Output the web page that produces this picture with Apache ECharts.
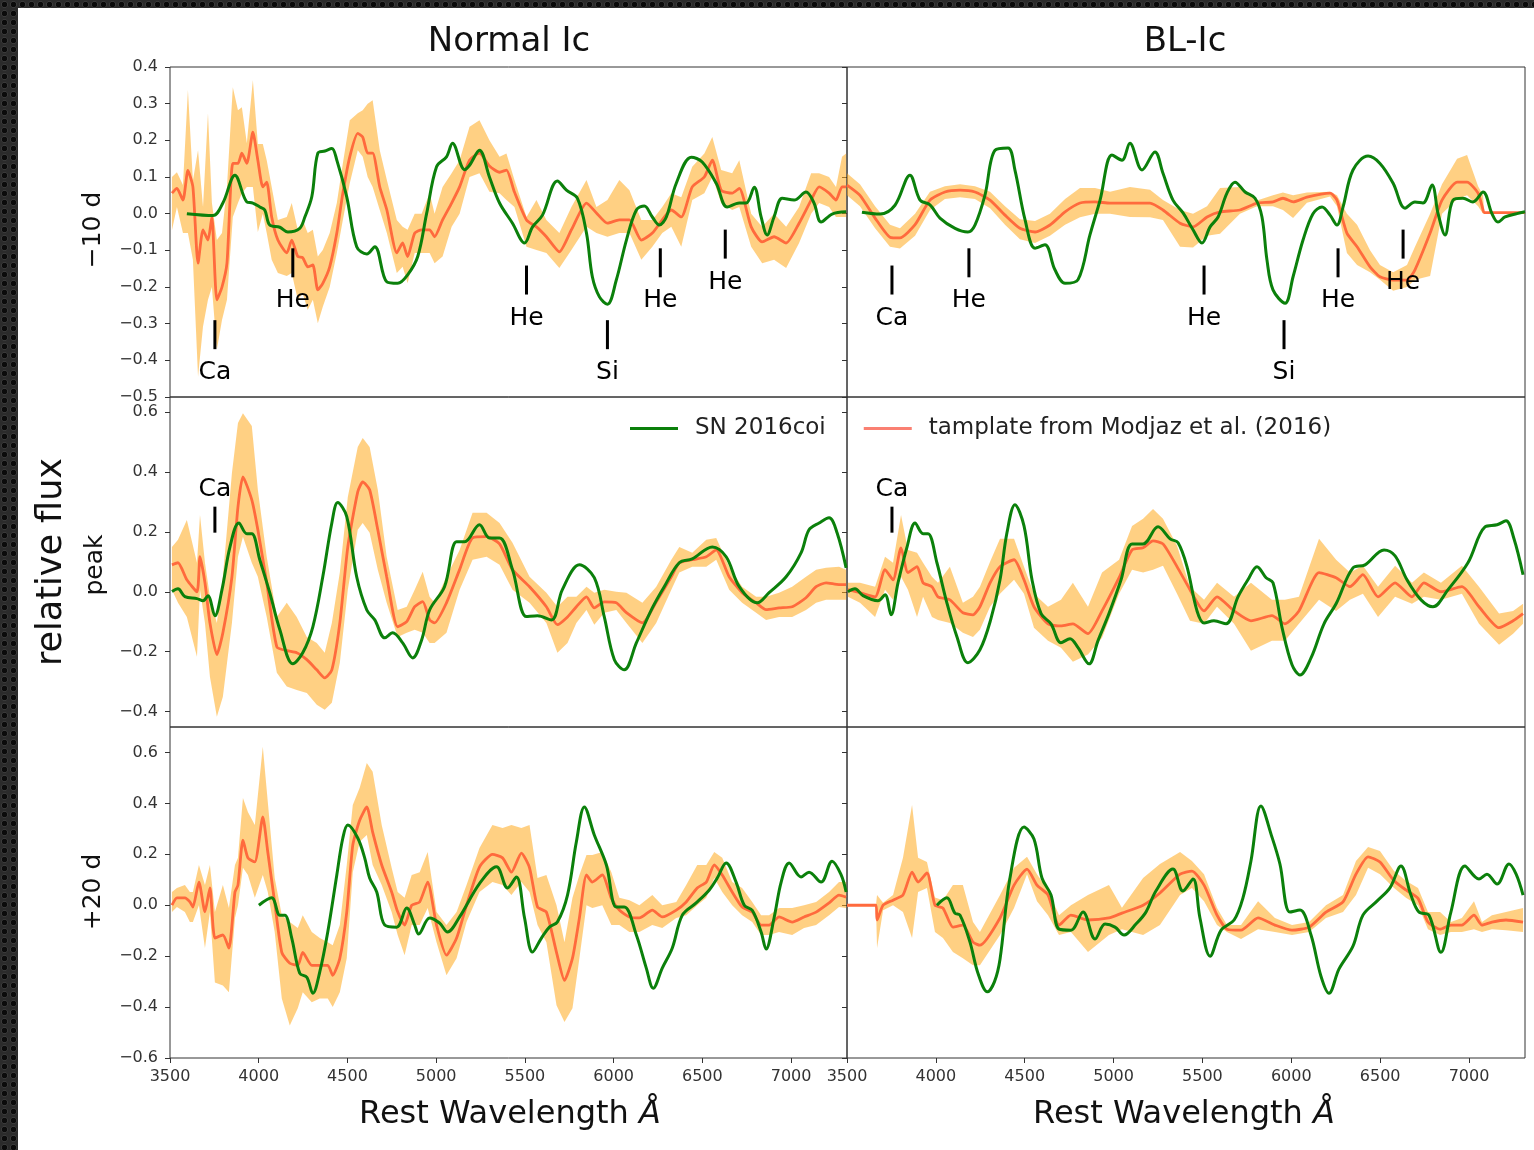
<!DOCTYPE html>
<html>
<head>
<meta charset="utf-8">
<script src="https://cdn.jsdelivr.net/npm/echarts@6/dist/echarts.min.js"></script>
<style>
  body {
    margin: 0;
    width: 1534px;
    height: 1150px;
    overflow: hidden;
    background-color: #2b2b2b;
    background-image: radial-gradient(circle at 50% 50%, #0b0b0b 38%, #3d3d3d 48%, #2b2b2b 58%);
    background-size: 9px 9px;
  }
  #paper { position: absolute; left: 18px; top: 8px; right: 0; bottom: 0; background: #fff; }
  #chart { position: absolute; left: 0; top: 0; width: 1534px; height: 1150px; }
</style>
</head>
<body>
<div id="paper"></div>
<div id="chart"></div>
<script>
// x ticks shared by every panel
const xTicks = [3500, 4000, 4500, 5000, 5500, 6000, 6500, 7000]
const yTicksTop = [-0.5, -0.4, -0.3, -0.2, -0.1, 0.0, 0.1, 0.2, 0.3, 0.4]
const yTicksMid = [-0.4, -0.2, 0.0, 0.2, 0.4, 0.6]
const yTicksBot = [-0.6, -0.4, -0.2, 0.0, 0.2, 0.4, 0.6]

const SN_NAME = 'SN 2016coi'
const TMPL_NAME = 'tamplate from Modjaz et al. (2016)'

// SN 2016coi spectra  [wavelength, flux]
const snTL = [[3595,0.0],[3742,-0.005],[3798,0.029],[3866,0.105],[3933,0.032],[3967,0.029],[4006,0.018],[4034,0.01],[4062,-0.031],[4119,-0.037],[4164,-0.05],[4231,-0.04],[4260,-0.009],[4299,0.046],[4333,0.165],[4373,0.171],[4412,0.178],[4440,0.146],[4496,0.046],[4552,-0.09],[4609,-0.11],[4654,-0.09],[4722,-0.186],[4783,-0.19],[4839,-0.167],[4896,-0.117],[4946,0.0],[5002,0.128],[5058,0.155],[5092,0.192],[5160,0.12],[5188,0.132],[5244,0.173],[5300,0.1],[5357,0.029],[5430,-0.026],[5498,-0.08],[5543,-0.036],[5599,-0.004],[5683,0.089],[5734,0.064],[5796,0.042],[5847,-0.053],[5880,-0.172],[5920,-0.227],[5965,-0.247],[6015,-0.181],[6072,-0.072],[6128,0.01],[6173,0.021],[6218,-0.009],[6257,-0.031],[6297,-0.009],[6353,0.083],[6438,0.154],[6499,0.141],[6578,0.083],[6640,0.018],[6708,0.029],[6747,0.029],[6792,0.072],[6831,-0.009],[6865,-0.058],[6904,-0.009],[6950,0.042],[7017,0.037],[7084,0.059],[7129,0.029],[7169,-0.023],[7231,-0.001],[7310,0.005]]
const snTR = [[3584,0.004],[3686,-0.001],[3770,0.023],[3854,0.105],[3911,0.037],[3967,0.024],[4023,-0.012],[4108,-0.04],[4180,-0.05],[4220,-0.031],[4276,0.05],[4333,0.173],[4406,0.179],[4445,0.119],[4502,-0.017],[4558,-0.094],[4614,-0.085],[4670,-0.153],[4727,-0.19],[4800,-0.18],[4867,-0.058],[4924,0.037],[4991,0.16],[5047,0.146],[5092,0.192],[5160,0.119],[5233,0.168],[5278,0.11],[5334,0.037],[5391,0.002],[5447,-0.044],[5497,-0.08],[5543,-0.036],[5588,-0.009],[5638,0.056],[5683,0.086],[5740,0.059],[5796,0.042],[5835,-0.009],[5863,-0.126],[5897,-0.208],[5965,-0.244],[6010,-0.172],[6066,-0.072],[6122,0.0],[6173,0.018],[6218,-0.004],[6257,-0.031],[6291,0.018],[6347,0.119],[6432,0.157],[6499,0.137],[6573,0.083],[6640,0.015],[6696,0.032],[6741,0.029],[6792,0.078],[6826,0.0],[6865,-0.058],[6910,0.037],[6966,0.042],[7022,0.032],[7079,0.059],[7129,0.0],[7163,-0.023],[7203,-0.009],[7270,0.0],[7315,0.005]]
const snML = [[3511,0.001],[3545,0.01],[3584,-0.016],[3652,-0.023],[3686,-0.03],[3714,-0.013],[3753,-0.08],[3793,0.007],[3838,0.15],[3888,0.23],[3933,0.194],[3961,0.194],[4006,0.107],[4062,-0.003],[4119,-0.127],[4192,-0.241],[4248,-0.204],[4305,-0.117],[4361,0.05],[4412,0.23],[4445,0.298],[4496,0.251],[4552,0.05],[4609,-0.061],[4654,-0.094],[4710,-0.154],[4755,-0.137],[4811,-0.171],[4868,-0.221],[4918,-0.161],[4963,-0.061],[5047,0.017],[5115,0.167],[5160,0.167],[5244,0.224],[5300,0.18],[5357,0.18],[5430,0.074],[5509,-0.083],[5571,-0.08],[5650,-0.094],[5711,0.007],[5807,0.09],[5891,0.047],[5947,-0.083],[6004,-0.227],[6060,-0.261],[6128,-0.171],[6218,-0.054],[6285,0.017],[6370,0.097],[6443,0.11],[6556,0.15],[6634,0.117],[6708,0.017],[6809,-0.037],[6876,-0.003],[6972,0.05],[7056,0.13],[7101,0.207],[7158,0.23],[7214,0.247],[7259,0.197],[7310,0.08]]
const snMR = [[3505,0.0],[3545,0.01],[3590,-0.013],[3674,-0.03],[3714,-0.01],[3748,-0.077],[3787,0.03],[3838,0.15],[3883,0.23],[3928,0.194],[3956,0.194],[4006,0.097],[4062,-0.037],[4119,-0.151],[4180,-0.237],[4248,-0.194],[4310,-0.09],[4361,0.04],[4400,0.197],[4445,0.291],[4496,0.22],[4541,0.04],[4592,-0.073],[4648,-0.107],[4704,-0.17],[4755,-0.157],[4800,-0.187],[4862,-0.241],[4912,-0.164],[4974,-0.073],[5042,0.04],[5104,0.16],[5166,0.16],[5250,0.217],[5318,0.177],[5363,0.164],[5413,0.084],[5469,-0.063],[5509,-0.104],[5565,-0.097],[5633,-0.107],[5700,-0.017],[5756,0.04],[5807,0.084],[5858,0.047],[5897,0.03],[5948,-0.12],[6004,-0.244],[6049,-0.278],[6111,-0.221],[6184,-0.107],[6252,-0.04],[6347,0.08],[6415,0.09],[6522,0.14],[6584,0.12],[6651,0.04],[6730,-0.027],[6797,-0.05],[6882,0.007],[6994,0.097],[7090,0.217],[7158,0.224],[7208,0.237],[7253,0.177],[7304,0.057]]
const snBL = [[4001,0.0],[4073,0.029],[4119,-0.039],[4147,-0.039],[4186,-0.129],[4231,-0.267],[4271,-0.283],[4305,-0.346],[4344,-0.262],[4389,-0.105],[4440,0.119],[4474,0.264],[4502,0.315],[4558,0.264],[4597,0.186],[4625,0.107],[4665,0.052],[4710,-0.078],[4777,-0.086],[4834,-0.011],[4879,-0.078],[4901,-0.113],[4963,-0.05],[5019,-0.07],[5064,-0.105],[5132,-0.046],[5244,0.085],[5340,0.151],[5402,0.068],[5452,0.111],[5498,-0.05],[5543,-0.184],[5593,-0.129],[5638,-0.086],[5683,-0.066],[5740,0.04],[5790,0.249],[5835,0.386],[5891,0.276],[5959,0.158],[6015,-0.007],[6060,-0.007],[6128,-0.117],[6184,-0.247],[6223,-0.326],[6274,-0.247],[6330,-0.169],[6387,-0.039],[6465,0.009],[6539,0.06],[6584,0.107],[6634,0.166],[6690,0.091],[6736,0.0],[6781,-0.02],[6831,-0.105],[6859,-0.172],[6904,-0.05],[6944,0.091],[6989,0.166],[7056,0.111],[7101,0.13],[7169,0.091],[7231,0.173],[7282,0.119],[7310,0.052]]
const snBR = [[4006,0.0],[4062,0.029],[4107,-0.031],[4136,-0.039],[4192,-0.145],[4237,-0.267],[4290,-0.34],[4330,-0.3],[4361,-0.212],[4417,0.107],[4496,0.307],[4552,0.26],[4597,0.107],[4648,0.04],[4693,-0.094],[4760,-0.098],[4828,-0.027],[4896,-0.133],[4952,-0.074],[5008,-0.086],[5059,-0.117],[5126,-0.074],[5182,-0.027],[5238,0.056],[5334,0.142],[5390,0.056],[5447,0.103],[5486,-0.05],[5543,-0.2],[5605,-0.098],[5678,-0.058],[5728,0.029],[5773,0.174],[5829,0.39],[5891,0.268],[5936,0.162],[5992,-0.027],[6049,-0.019],[6111,-0.117],[6167,-0.279],[6212,-0.346],[6268,-0.251],[6347,-0.161],[6403,-0.039],[6482,0.016],[6555,0.068],[6617,0.154],[6673,0.04],[6718,-0.027],[6775,-0.039],[6842,-0.185],[6898,-0.027],[6977,0.154],[7056,0.103],[7101,0.122],[7158,0.083],[7225,0.162],[7265,0.122],[7304,0.04]]

// templates  [wavelength, mean, lower, upper]
const tmplTL = [[3511,0.056,-0.045,0.1],[3539,0.069,0.018,0.113],[3573,0.037,-0.053,0.078],[3601,0.118,-0.053,0.337],[3629,0.073,-0.126,0.09],[3658,-0.135,-0.445,0.173],[3686,-0.044,-0.308,0.018],[3714,-0.072,-0.235,0.274],[3736,-0.009,-0.2,0.03],[3764,-0.235,-0.371,-0.072],[3793,-0.2,-0.29,-0.053],[3821,-0.135,-0.235,0.073],[3854,0.137,-0.009,0.345],[3883,0.137,0.029,0.282],[3905,0.165,0.056,0.29],[3933,0.137,0.073,0.192],[3967,0.222,0.073,0.364],[3995,0.146,-0.05,0.19],[4023,0.073,0.0,0.19],[4045,0.086,-0.053,0.146],[4073,-0.009,-0.126,0.073],[4108,-0.072,-0.162,-0.017],[4158,-0.107,-0.17,-0.009],[4186,-0.072,-0.162,0.029],[4220,-0.117,-0.235,-0.044],[4248,-0.12,-0.217,-0.017],[4276,-0.145,-0.263,-0.053],[4305,-0.14,-0.235,-0.044],[4333,-0.208,-0.299,-0.117],[4361,-0.19,-0.254,-0.099],[4400,-0.145,-0.2,-0.053],[4440,-0.053,-0.107,0.029],[4474,0.056,-0.017,0.137],[4513,0.155,0.083,0.255],[4558,0.219,0.173,0.274],[4586,0.209,0.155,0.282],[4614,0.165,0.1,0.3],[4642,0.165,0.073,0.309],[4682,0.073,0.01,0.173],[4722,0.01,-0.053,0.092],[4778,-0.107,-0.162,-0.017],[4811,-0.08,-0.145,-0.036],[4839,-0.117,-0.19,-0.044],[4879,-0.053,-0.107,0.0],[4918,-0.044,-0.107,0.0],[4963,-0.044,-0.107,0.056],[4991,-0.063,-0.135,0.0],[5036,-0.017,-0.117,0.073],[5087,0.029,-0.036,0.11],[5132,0.073,0.0,0.146],[5188,0.146,0.1,0.237],[5244,0.165,0.11,0.255],[5300,0.13,0.06,0.2],[5357,0.113,0.056,0.155],[5396,0.119,0.037,0.164],[5441,0.059,0.018,0.092],[5509,-0.017,-0.09,-0.009],[5565,-0.036,-0.099,0.037],[5621,-0.063,-0.107,-0.017],[5694,-0.104,-0.148,-0.053],[5762,-0.044,-0.099,0.018],[5847,0.029,-0.036,0.092],[5903,0.002,-0.053,0.018],[5965,-0.026,-0.063,0.037],[6032,-0.017,-0.053,0.092],[6089,-0.017,-0.053,0.064],[6156,-0.072,-0.126,-0.017],[6218,-0.053,-0.09,-0.017],[6274,-0.017,-0.053,0.018],[6325,0.01,-0.036,0.056],[6381,-0.009,-0.09,0.045],[6443,0.073,0.037,0.128],[6511,0.1,0.056,0.164],[6556,0.146,0.1,0.209],[6606,0.064,0.029,0.119],[6668,0.056,0.01,0.11],[6708,0.069,0.018,0.146],[6775,-0.036,-0.09,0.0],[6837,-0.077,-0.135,-0.036],[6904,-0.063,-0.126,0.0],[6972,-0.08,-0.148,-0.036],[7045,-0.026,-0.08,0.018],[7113,0.037,0.0,0.11],[7158,0.073,0.029,0.11],[7214,0.056,0.018,0.1],[7253,0.037,-0.009,0.073],[7287,0.073,-0.009,0.155],[7310,0.073,-0.009,0.164]]
const tmplTR = [[3500,0.078,0.05,0.11],[3573,0.05,0.02,0.08],[3658,-0.012,-0.04,0.02],[3742,-0.064,-0.09,-0.03],[3798,-0.066,-0.095,-0.04],[3883,-0.03,-0.06,0.0],[3967,0.037,0.01,0.06],[4051,0.059,0.04,0.075],[4136,0.064,0.045,0.08],[4220,0.059,0.04,0.075],[4305,0.037,0.015,0.06],[4389,-0.004,-0.03,0.02],[4473,-0.04,-0.07,-0.015],[4558,-0.05,-0.08,-0.02],[4642,-0.031,-0.06,0.0],[4727,0.005,-0.03,0.04],[4811,0.029,-0.01,0.07],[4896,0.032,0.0,0.07],[4980,0.029,0.0,0.06],[5092,0.029,-0.009,0.073],[5205,0.029,-0.01,0.065],[5278,0.01,-0.017,0.037],[5374,-0.026,-0.09,0.01],[5447,-0.036,-0.092,0.0],[5526,-0.009,-0.06,0.02],[5599,0.005,-0.055,0.07],[5711,0.01,0.0,0.073],[5807,0.029,0.02,0.036],[5897,0.032,0.02,0.05],[5953,0.042,0.01,0.058],[6010,0.032,-0.012,0.05],[6088,0.045,0.03,0.058],[6218,0.056,0.047,0.06],[6257,0.037,0.02,0.05],[6313,-0.053,-0.107,0.0],[6370,-0.09,-0.14,-0.03],[6443,-0.145,-0.16,-0.1],[6499,-0.172,-0.18,-0.14],[6573,-0.181,-0.21,-0.16],[6651,-0.181,-0.2,-0.14],[6696,-0.153,-0.18,-0.09],[6781,-0.053,-0.17,0.0],[6848,0.037,0.0,0.08],[6933,0.086,0.04,0.15],[6989,0.086,0.05,0.16],[7051,0.056,0.02,0.075],[7079,0.01,0.0,0.05],[7085,0.003,0.003,0.003],[7315,0.003,0.003,0.003]]
const tmplML = [[3511,0.09,0.007,0.15],[3545,0.097,-0.037,0.174],[3595,0.04,-0.084,0.24],[3652,0.0,-0.217,0.097],[3669,0.117,0.007,0.257],[3697,0.03,-0.104,0.097],[3725,-0.104,-0.284,-0.017],[3764,-0.21,-0.418,-0.104],[3798,-0.137,-0.351,0.05],[3849,0.05,-0.104,0.397],[3883,0.284,0.117,0.564],[3911,0.384,0.184,0.597],[3961,0.307,0.097,0.554],[3995,0.207,0.05,0.341],[4045,0.03,-0.084,0.117],[4102,-0.184,-0.271,-0.084],[4158,-0.197,-0.317,-0.037],[4214,-0.204,-0.328,-0.084],[4271,-0.227,-0.338,-0.151],[4327,-0.261,-0.378,-0.171],[4372,-0.288,-0.394,-0.204],[4412,-0.261,-0.371,-0.104],[4457,-0.104,-0.237,0.064],[4502,0.15,0.007,0.317],[4558,0.334,0.207,0.484],[4586,0.367,0.23,0.514],[4625,0.341,0.197,0.484],[4671,0.207,0.074,0.341],[4721,0.05,-0.037,0.117],[4783,-0.117,-0.151,-0.061],[4834,-0.1,-0.137,-0.05],[4879,-0.05,-0.127,0.007],[4924,-0.033,-0.137,0.067],[4963,-0.094,-0.171,-0.017],[4991,-0.104,-0.171,-0.037],[5058,-0.037,-0.137,0.05],[5132,0.074,0.007,0.14],[5205,0.18,0.107,0.264],[5284,0.184,0.117,0.264],[5357,0.16,0.09,0.23],[5430,0.074,0.007,0.164],[5526,0.017,-0.037,0.05],[5621,-0.05,-0.104,-0.003],[5683,-0.11,-0.204,-0.05],[5740,-0.084,-0.171,-0.017],[5790,-0.05,-0.104,-0.017],[5847,-0.017,-0.061,0.017],[5891,-0.054,-0.11,-0.003],[5947,-0.034,-0.07,0.007],[6015,-0.037,-0.061,0.0],[6072,-0.07,-0.104,-0.003],[6162,-0.104,-0.171,-0.037],[6240,-0.034,-0.104,0.017],[6325,0.05,0.007,0.107],[6370,0.097,0.064,0.15],[6443,0.107,0.084,0.13],[6522,0.117,0.084,0.174],[6578,0.14,0.107,0.18],[6651,0.05,0.007,0.084],[6724,-0.003,-0.037,0.017],[6803,-0.037,-0.07,-0.017],[6859,-0.06,-0.094,-0.017],[6932,-0.054,-0.084,-0.003],[7006,-0.05,-0.084,0.017],[7084,-0.02,-0.061,0.05],[7141,0.017,-0.037,0.074],[7197,0.03,-0.027,0.08],[7270,0.024,-0.027,0.084],[7310,0.024,-0.027,0.074]]
const tmplMR = [[3505,0.007,-0.017,0.03],[3573,-0.003,-0.037,0.03],[3658,-0.017,-0.084,0.017],[3714,0.074,0.007,0.117],[3759,0.04,-0.027,0.097],[3804,0.147,0.05,0.257],[3843,0.064,0.007,0.14],[3894,0.084,-0.084,0.13],[3928,0.03,-0.017,0.097],[3978,0.017,-0.084,0.05],[4012,-0.017,-0.094,0.03],[4079,-0.027,-0.104,0.084],[4152,-0.07,-0.137,-0.037],[4209,-0.077,-0.151,-0.017],[4248,-0.05,-0.127,0.017],[4305,0.03,-0.05,0.1],[4361,0.084,-0.007,0.177],[4440,0.107,0.04,0.177],[4496,0.04,-0.007,0.084],[4552,-0.05,-0.12,-0.007],[4631,-0.107,-0.164,-0.05],[4704,-0.114,-0.187,-0.027],[4771,-0.107,-0.234,0.03],[4856,-0.14,-0.21,-0.05],[4935,-0.064,-0.154,0.064],[5031,0.047,-0.007,0.107],[5104,0.14,0.074,0.22],[5166,0.147,0.064,0.244],[5222,0.17,0.074,0.277],[5278,0.16,0.087,0.244],[5357,0.084,-0.007,0.154],[5430,0.007,-0.097,0.017],[5509,-0.064,-0.107,-0.027],[5582,-0.017,-0.05,0.03],[5678,-0.064,-0.107,-0.017],[5773,-0.097,-0.197,0.03],[5891,-0.08,-0.164,-0.027],[5964,-0.107,-0.164,-0.027],[6043,-0.064,-0.107,-0.017],[6156,0.064,-0.027,0.177],[6252,0.047,-0.064,0.107],[6330,0.017,-0.027,0.064],[6403,0.057,-0.007,0.087],[6488,-0.017,-0.084,0.017],[6584,0.03,-0.017,0.087],[6679,-0.017,-0.04,0.03],[6746,0.03,-0.017,0.064],[6842,0.0,-0.027,0.03],[6960,0.017,-0.007,0.087],[7056,-0.05,-0.107,0.017],[7169,-0.12,-0.177,-0.073],[7248,-0.097,-0.14,-0.064],[7304,-0.073,-0.107,-0.04]]
const tmplBL = [[3511,0.0,-0.027,0.052],[3539,0.029,-0.007,0.068],[3584,0.029,-0.027,0.079],[3612,0.013,-0.066,0.052],[3629,-0.007,-0.066,0.052],[3663,0.091,0.0,0.158],[3697,-0.026,-0.168,0.079],[3725,0.068,-0.027,0.158],[3753,-0.129,-0.303,-0.027],[3798,-0.117,-0.315,0.079],[3832,-0.168,-0.342,-0.011],[3866,0.052,-0.05,0.158],[3883,0.079,0.0,0.186],[3911,0.256,0.147,0.421],[3939,0.186,0.119,0.366],[3978,0.17,0.029,0.315],[4023,0.347,0.119,0.622],[4051,0.209,0.052,0.406],[4090,0.011,-0.105,0.107],[4130,-0.185,-0.366,-0.039],[4175,-0.228,-0.472,-0.066],[4220,-0.236,-0.405,-0.089],[4248,-0.185,-0.342,-0.039],[4299,-0.236,-0.381,-0.105],[4344,-0.236,-0.366,-0.129],[4389,-0.236,-0.366,-0.145],[4417,-0.275,-0.4,-0.157],[4457,-0.208,-0.342,-0.078],[4496,-0.027,-0.208,0.158],[4530,0.236,0.13,0.394],[4569,0.334,0.249,0.461],[4609,0.386,0.276,0.559],[4642,0.287,0.158,0.524],[4693,0.158,0.079,0.315],[4749,0.052,-0.027,0.147],[4783,-0.026,-0.117,0.052],[4822,-0.078,-0.196,0.029],[4862,0.0,-0.078,0.119],[4907,0.013,-0.078,0.13],[4952,0.091,-0.011,0.209],[5002,-0.078,-0.145,-0.027],[5058,-0.196,-0.275,-0.078],[5115,-0.129,-0.208,-0.027],[5171,0.0,-0.066,0.079],[5244,0.15,0.052,0.225],[5317,0.2,0.091,0.315],[5374,0.186,0.079,0.303],[5424,0.13,0.04,0.315],[5480,0.205,0.091,0.303],[5526,0.147,0.052,0.315],[5571,-0.007,-0.078,0.107],[5621,-0.027,-0.145,0.119],[5678,-0.185,-0.393,0.0],[5723,-0.295,-0.459,-0.145],[5768,-0.208,-0.405,0.029],[5807,-0.05,-0.208,0.119],[5847,0.119,0.0,0.197],[5880,0.091,-0.011,0.197],[5936,0.119,0.0,0.209],[5987,0.027,-0.078,0.13],[6032,-0.019,-0.078,0.029],[6089,-0.046,-0.105,0.02],[6145,-0.05,-0.105,0.0],[6218,-0.019,-0.078,0.04],[6274,-0.046,-0.089,0.0],[6353,-0.019,-0.05,0.013],[6409,0.013,-0.039,0.079],[6471,0.068,0.0,0.158],[6522,0.091,0.029,0.158],[6567,0.158,0.107,0.209],[6612,0.119,0.052,0.186],[6668,0.052,0.0,0.091],[6724,-0.007,-0.039,0.068],[6781,-0.027,-0.066,0.013],[6831,-0.078,-0.117,-0.039],[6876,-0.078,-0.117,-0.039],[6932,-0.046,-0.105,-0.011],[7006,-0.066,-0.117,-0.011],[7073,-0.046,-0.089,0.0],[7141,-0.027,-0.078,0.013],[7214,0.009,-0.039,0.052],[7270,0.04,-0.007,0.091],[7310,0.032,-0.011,0.091]]
const tmplBR = [[3500,0.0,0.0,0.0],[3663,0.0,0.0,0.0],[3669,-0.058,-0.168,0.04],[3703,0.0,-0.02,0.01],[3759,0.02,0.0,0.04],[3815,0.04,-0.027,0.186],[3866,0.13,-0.129,0.394],[3900,0.091,0.052,0.186],[3950,0.127,0.068,0.17],[3995,0.0,-0.105,0.03],[4040,-0.011,-0.129,0.02],[4096,-0.086,-0.184,0.079],[4152,-0.078,-0.208,0.079],[4209,-0.145,-0.236,-0.066],[4248,-0.157,-0.236,-0.105],[4361,-0.05,-0.117,0.04],[4440,0.079,-0.011,0.147],[4513,0.142,0.122,0.19],[4569,0.079,0.016,0.122],[4631,0.04,-0.039,0.06],[4693,-0.078,-0.117,-0.039],[4760,-0.039,-0.105,0.0],[4856,-0.058,-0.184,0.04],[4974,-0.05,-0.117,0.079],[5047,-0.031,-0.094,-0.01],[5166,0.0,-0.117,0.107],[5261,0.048,-0.078,0.162],[5374,0.122,0.04,0.209],[5441,0.134,0.068,0.174],[5509,0.079,0.016,0.122],[5582,-0.039,-0.078,-0.011],[5638,-0.094,-0.105,-0.078],[5717,-0.098,-0.133,-0.078],[5813,-0.05,-0.094,0.016],[5908,-0.078,-0.105,-0.05],[6004,-0.098,-0.117,-0.078],[6100,-0.086,-0.105,-0.066],[6195,-0.027,-0.05,0.0],[6291,0.013,-0.027,0.04],[6364,0.122,0.04,0.174],[6432,0.19,0.147,0.229],[6499,0.17,0.122,0.213],[6578,0.096,0.068,0.134],[6645,0.06,0.029,0.096],[6713,0.027,0.0,0.068],[6769,-0.066,-0.094,-0.027],[6837,-0.094,-0.117,-0.027],[6898,-0.078,-0.105,-0.066],[6960,-0.078,-0.105,-0.05],[7028,-0.039,-0.094,0.016],[7073,-0.078,-0.105,-0.066],[7129,-0.066,-0.094,-0.039],[7208,-0.058,-0.098,-0.027],[7304,-0.066,-0.105,-0.011]]

// line identifications  [wavelength, flux at marker, ion]
const linesTL = [[3753,-0.330,'Ca'],[4192,-0.134,'He'],[5509,-0.181,'He'],[5965,-0.330,'Si'],[6263,-0.134,'He'],[6629,-0.083,'He']]
const linesTR = [[3753,-0.181,'Ca'],[4186,-0.134,'He'],[5509,-0.181,'He'],[5959,-0.330,'Si'],[6263,-0.134,'He'],[6629,-0.083,'He']]
const linesML = [[3753,0.241,'Ca']]
const linesMR = [[3753,0.241,'Ca']]

const FONT = 'DejaVu Sans'
const GREEN = '#0b800b'
const ORANGE = '#ff6a3d'
const BAND = 'rgba(255,170,30,0.55)'

const colLeft = [170, 847]
const colWidth = [677, 678]
const rowTop = [67, 397, 727]
const rowHeight = [330, 330, 331]
const rowAxis = [
  { min: -0.5, max: 0.4, ticks: yTicksTop },
  { min: -0.452, max: 0.651, ticks: yTicksMid },
  { min: -0.6, max: 0.7, ticks: yTicksBot }
]

const panels = [
  { sn: snTL, tmpl: tmplTL, lines: linesTL, pos: 'bottom', bar: 29, gap: 11 },
  { sn: snTR, tmpl: tmplTR, lines: linesTR, pos: 'bottom', bar: 29, gap: 11 },
  { sn: snML, tmpl: tmplML, lines: linesML, pos: 'top', bar: 26, gap: 5 },
  { sn: snMR, tmpl: tmplMR, lines: linesMR, pos: 'top', bar: 26, gap: 5 },
  { sn: snBL, tmpl: tmplBL, lines: [], pos: 'top', bar: 26, gap: 5 },
  { sn: snBR, tmpl: tmplBR, lines: [], pos: 'top', bar: 26, gap: 5 }
]

const fmtY = (v) => (v < -1e-9 ? '\u2212' : '') + Math.abs(v).toFixed(1)

const grids = []
const xAxes = []
const yAxes = []
const series = []

panels.forEach((p, i) => {
  const row = Math.floor(i / 2)
  const col = i % 2
  const ax = rowAxis[row]
  const bottom = row === 2
  grids.push({
    left: colLeft[col], top: rowTop[row], width: colWidth[col], height: rowHeight[row],
    show: true, borderColor: '#333', borderWidth: 1
  })
  xAxes.push({
    type: 'value', gridIndex: i, min: 3500, max: 7315, position: 'bottom',
    axisLine: { show: false, onZero: false },
    splitLine: { show: false },
    axisTick: { show: bottom, length: 5, lineStyle: { color: '#333' }, customValues: xTicks },
    axisLabel: {
      show: bottom, customValues: xTicks, margin: 11, formatter: (v) => String(v),
      fontSize: 16, fontFamily: FONT, color: '#333'
    }
  })
  yAxes.push({
    type: 'value', gridIndex: i, min: ax.min, max: ax.max, position: 'left',
    axisLine: { show: false, onZero: false },
    splitLine: { show: false },
    axisTick: { show: true, length: 5, lineStyle: { color: '#333' }, customValues: ax.ticks },
    axisLabel: {
      show: col === 0, customValues: ax.ticks, margin: 12, formatter: fmtY,
      fontSize: 16, fontFamily: FONT, color: '#333'
    }
  })

  const tmpl = p.tmpl
  series.push({
    type: 'custom', name: 'band' + i, xAxisIndex: i, yAxisIndex: i, z: 1, silent: true,
    clip: true,
    data: tmpl.map((r) => [r[0], r[2], r[3]]),
    encode: { x: 0, y: [1, 2] },
    renderItem: (params, api) => {
      if (params.dataIndex !== 0) return null
      const upper = tmpl.map((r) => api.coord([r[0], r[3]]))
      const lower = tmpl.map((r) => api.coord([r[0], r[2]])).reverse()
      return { type: 'polygon', shape: { points: upper.concat(lower) }, style: { fill: BAND } }
    }
  })
  series.push({
    type: 'line', name: TMPL_NAME, xAxisIndex: i, yAxisIndex: i, z: 2,
    showSymbol: false, smooth: 0.2, silent: true,
    lineStyle: { color: ORANGE, width: 2.8 },
    itemStyle: { color: ORANGE },
    data: tmpl.map((r) => [r[0], r[1]])
  })
  series.push({
    type: 'line', name: SN_NAME, xAxisIndex: i, yAxisIndex: i, z: 3,
    showSymbol: false, smooth: 0.35, silent: true,
    lineStyle: { color: GREEN, width: 3 },
    itemStyle: { color: GREEN },
    data: p.sn
  })
  if (p.lines.length) {
    series.push({
      type: 'scatter', name: 'lines' + i, xAxisIndex: i, yAxisIndex: i, z: 4, silent: true,
      symbol: 'rect', symbolSize: [3, p.bar],
      itemStyle: { color: '#000', opacity: 1 },
      label: {
        show: true, position: p.pos, distance: p.gap,
        formatter: (d) => d.data[2],
        fontSize: 25, fontFamily: FONT, color: '#000', opacity: 1
      },
      data: p.lines
    })
  }
})

const txt = (x, y, text, size, rot) => ({
  type: 'text', x: x, y: y, rotation: rot || 0,
  style: { text: text, fontSize: size, fontFamily: FONT, fill: '#111', align: 'center', verticalAlign: 'middle' }
})
const axisTitle = (x) => ({
  type: 'text', x: x, y: 1115,
  style: {
    text: '{n|Rest Wavelength }{i|\u00c5}', align: 'center', verticalAlign: 'middle',
    rich: {
      n: { fontSize: 32, fontFamily: FONT, fill: '#111' },
      i: { fontSize: 32, fontFamily: FONT, fontStyle: 'italic', fill: '#111' }
    }
  }
})

const chart = echarts.init(document.getElementById('chart'))
chart.setOption({
  animation: false,
  legend: {
    left: 625, top: 412, itemWidth: 48, itemHeight: 3, icon: 'rect', itemGap: 38,
    selectedMode: false,
    textStyle: { fontSize: 23, fontFamily: FONT, color: '#222', padding: [0, 0, 0, 12] },
    data: [
      { name: SN_NAME, itemStyle: { color: GREEN } },
      { name: TMPL_NAME, itemStyle: { color: '#fa8072' } }
    ]
  },
  grid: grids,
  xAxis: xAxes,
  yAxis: yAxes,
  series: series,
  graphic: [
    txt(509, 42, 'Normal Ic', 34),
    txt(1185, 42, 'BL-Ic', 34),
    txt(52, 562, 'relative flux', 35, Math.PI / 2),
    txt(93, 230, '\u221210 d', 25, Math.PI / 2),
    txt(95, 565, 'peak', 25, Math.PI / 2),
    txt(93, 892, '+20 d', 25, Math.PI / 2),
    axisTitle(510),
    axisTitle(1184)
  ]
})
</script>
</body>
</html>
